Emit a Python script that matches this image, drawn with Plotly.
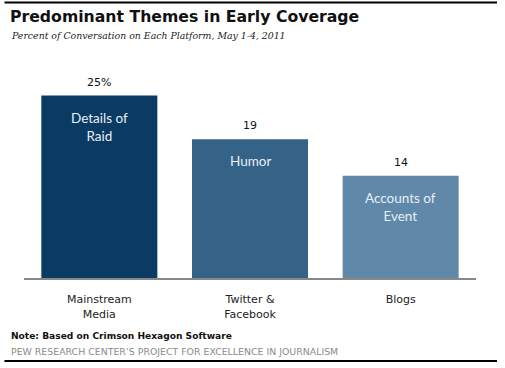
import plotly.graph_objects as go

categories = ["Mainstream<br>Media", "Twitter &<br>Facebook", "Blogs"]
values = [25, 19, 14]
value_labels = ["25%", "19", "14"]
themes = ["Details of<br>Raid", "Humor", "Accounts of<br>Event"]
colors = ["#0B3B63", "#346387", "#6088A8"]

W, H = 505, 368
L, R, T, B = 24, 29, 59, 90
pw, ph = W - L - R, H - T - B

def px(x):
    return (x - L) / pw

def py(y):
    return (H - B - y) / ph

xs = list(range(len(categories)))
fig = go.Figure(go.Bar(x=xs, y=values, marker=dict(color=colors, line=dict(width=0)),
                       width=0.77, hoverinfo="skip"))

ann = []
# top and bottom rules drawn as headless arrows
for yy in (2.5, 361):
    ann.append(dict(xref="paper", yref="paper", x=px(497), y=py(yy), ax=-494, ay=0, text="",
                    showarrow=True, arrowhead=0, arrowwidth=2, arrowcolor="#000000",
                    standoff=0, startstandoff=0))

for i, (v, vl, th) in enumerate(zip(values, value_labels, themes)):
    ann.append(dict(x=i, y=v, text=vl, showarrow=False, yanchor="bottom", yshift=5,
                    font=dict(family="DejaVu Sans", size=11, color="#111111")))
    ann.append(dict(x=i, y=v, text=th, showarrow=False, yanchor="top", yshift=-12,
                    font=dict(family="Lato", size=13.5, color="#E6EEF6")))

ann.append(dict(xref="paper", yref="paper", x=px(9), y=py(17), xanchor="left", yanchor="middle",
                text="<b>Predominant Themes in Early Coverage</b>", showarrow=False,
                bgcolor="rgba(0,0,0,0)", borderpad=0,
                font=dict(family="DejaVu Sans", size=15.7, color="#111111")))
ann.append(dict(xref="paper", yref="paper", x=px(9), y=py(35), xanchor="left", yanchor="middle",
                text="<i>Percent of Conversation on Each Platform, May 1-4, 2011</i>", showarrow=False,
                font=dict(family="DejaVu Serif", size=9.35, color="#222222")))
ann.append(dict(xref="paper", yref="paper", x=px(9), y=py(336), xanchor="left", yanchor="middle",
                text="<b>Note: Based on Crimson Hexagon Software</b>", showarrow=False,
                font=dict(family="DejaVu Sans", size=9.1, color="#111111")))
ann.append(dict(xref="paper", yref="paper", x=px(9), y=py(351), xanchor="left", yanchor="middle",
                text="PEW RESEARCH CENTER\u2019S PROJECT FOR EXCELLENCE IN JOURNALISM", showarrow=False,
                font=dict(family="DejaVu Sans", size=9.4, color="#8A8A8A")))

fig.update_layout(
    width=W, height=H,
    margin=dict(l=L, r=R, t=T, b=B, pad=0),
    plot_bgcolor="white", paper_bgcolor="white",
    showlegend=False,
    annotations=ann,
    xaxis=dict(range=[-0.5, 2.5], tickmode="array", tickvals=xs, ticktext=categories,
               showgrid=False, zeroline=False, showline=True, linecolor="#888888", linewidth=2,
               ticks="", ticklabelstandoff=10,
               tickfont=dict(family="DejaVu Sans", size=11, color="#222222"), fixedrange=True),
    yaxis=dict(range=[0, 30], visible=False, fixedrange=True),
)

fig.write_html("out.html", config={"displayModeBar": False},
               post_script="document.body.style.margin='0';document.body.style.overflow='hidden';")
